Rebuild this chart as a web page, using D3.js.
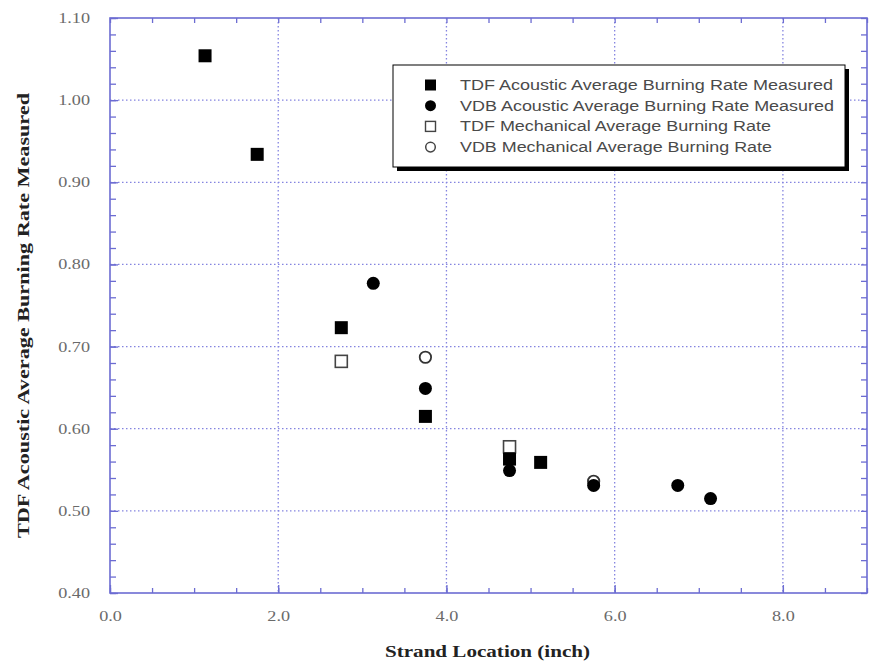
<!DOCTYPE html>
<html>
<head>
<meta charset="utf-8">
<script src="https://cdn.jsdelivr.net/npm/d3@7"></script>
<style>
  body { margin: 0; background: #fff; }
  svg { display: block; }
</style>
</head>
<body>
<svg id="chart" width="875" height="666"></svg>
<script>
// data
var legendLabels = ["TDF Acoustic Average Burning Rate Measured",
                    "VDB Acoustic Average Burning Rate Measured",
                    "TDF Mechanical Average Burning Rate",
                    "VDB Mechanical Average Burning Rate"];
var tdfAcX = [1.13, 1.75, 2.75, 3.75, 4.75, 5.12];
var tdfAcY = [1.054, 0.934, 0.723, 0.615, 0.563, 0.559];
var vdbAcX = [3.13, 3.75, 4.75, 5.75, 6.75, 7.14];
var vdbAcY = [0.777, 0.649, 0.549, 0.531, 0.531, 0.515];
var tdfMeX = [2.75, 4.75];
var tdfMeY = [0.682, 0.578];
var vdbMeX = [3.75, 5.75];
var vdbMeY = [0.687, 0.536];
var xTicks = [0, 2, 4, 6, 8];
var yTicks = [0.4, 0.5, 0.6, 0.7, 0.8, 0.9, 1.0, 1.1];

var margin = {left: 110, top: 18, right: 8, bottom: 73};
var W = 875 - margin.left - margin.right, H = 666 - margin.top - margin.bottom;
var frameCol = "#6c6cd2", gridCol = "#8484e0";

var svg = d3.select("#chart");
var g = svg.append("g").attr("transform", "translate(" + margin.left + "," + margin.top + ")");

var x = d3.scaleLinear().domain([0, 9]).range([0, W]);
var y = d3.scaleLinear().domain([0.4, 1.1]).range([H, 0]);

function pts(xs, ys) { return xs.map(function(v, i){ return {x: v, y: ys[i]}; }); }

// grid
g.append("g").selectAll("line").data(xTicks.filter(function(d){ return d > 0; }))
  .enter().append("line")
  .attr("x1", function(d){ return x(d); }).attr("x2", function(d){ return x(d); })
  .attr("y1", 0).attr("y2", H)
  .attr("stroke", gridCol).attr("stroke-width", 1.3).attr("stroke-dasharray", "1.5,2.5");
g.append("g").selectAll("line").data(yTicks.filter(function(d){ return d > 0.45 && d < 1.05; }))
  .enter().append("line")
  .attr("y1", function(d){ return y(d); }).attr("y2", function(d){ return y(d); })
  .attr("x1", 0).attr("x2", W)
  .attr("stroke", gridCol).attr("stroke-width", 1.3).attr("stroke-dasharray", "1.5,2.5");

// axes, ticks inward on all four sides
var xMinor = d3.range(0, 9.01, 0.5), yMinor = d3.range(0.4, 1.101, 0.02);
function styleAxis(a) {
  a.select(".domain").remove();
  a.selectAll("line").attr("stroke", frameCol).attr("stroke-width", 1.3);
}
styleAxis(g.append("g").attr("transform", "translate(0," + H + ")")
  .call(d3.axisBottom(x).tickValues(xMinor).tickSize(-5).tickFormat("")));
styleAxis(g.append("g").call(d3.axisTop(x).tickValues(xMinor).tickSize(-5).tickFormat("")));
styleAxis(g.append("g").call(d3.axisLeft(y).tickValues(yMinor).tickSize(-6).tickFormat("")));
styleAxis(g.append("g").attr("transform", "translate(" + W + ",0)")
  .call(d3.axisRight(y).tickValues(yMinor).tickSize(-6).tickFormat("")));

var xLab = g.append("g").attr("transform", "translate(0," + H + ")")
  .call(d3.axisBottom(x).tickValues(xTicks).tickSize(-8).tickPadding(18).tickFormat(d3.format(".1f")));
styleAxis(xLab);
var yLab = g.append("g")
  .call(d3.axisLeft(y).tickValues(yTicks).tickSize(-8).tickPadding(20).tickFormat(d3.format(".2f")));
styleAxis(yLab);
svg.selectAll(".tick text")
  .attr("font-family", "Liberation Serif, Times New Roman, serif")
  .attr("font-size", 14).attr("fill", "#6a6a6a");
xLab.selectAll(".tick text").attr("transform", "scale(1.3,1)")
  .attr("x", 0);
yLab.selectAll(".tick text").each(function(){
  var t = d3.select(this);
  t.attr("transform", "translate(" + t.attr("x") + ",0) scale(1.3,1)").attr("x", 0);
});

// frame
g.append("rect").attr("width", W).attr("height", H)
  .attr("fill", "none").attr("stroke", frameCol).attr("stroke-width", 1.6);

// markers: open first, filled drawn over them
var sq = 13, rad = 6.5;
g.append("g").selectAll("rect").data(pts(tdfMeX, tdfMeY)).enter().append("rect")
  .attr("x", function(d){ return x(d.x) - sq/2 + 0.5; }).attr("y", function(d){ return y(d.y) - sq/2 + 0.5; })
  .attr("width", sq - 1).attr("height", sq - 1)
  .attr("fill", "#fff").attr("stroke", "#444").attr("stroke-width", 1.6);
g.append("g").selectAll("circle").data(pts(vdbMeX, vdbMeY)).enter().append("circle")
  .attr("cx", function(d){ return x(d.x); }).attr("cy", function(d){ return y(d.y); })
  .attr("r", rad - 0.8).attr("fill", "#fff").attr("stroke", "#333").attr("stroke-width", 1.8);
g.append("g").selectAll("rect").data(pts(tdfAcX, tdfAcY)).enter().append("rect")
  .attr("x", function(d){ return x(d.x) - sq/2; }).attr("y", function(d){ return y(d.y) - sq/2; })
  .attr("width", sq).attr("height", sq).attr("fill", "#000");
g.append("g").selectAll("circle").data(pts(vdbAcX, vdbAcY)).enter().append("circle")
  .attr("cx", function(d){ return x(d.x); }).attr("cy", function(d){ return y(d.y); })
  .attr("r", rad).attr("fill", "#000");

// legend
var lg = svg.append("g").attr("transform", "translate(393,65)");
lg.append("rect").attr("x", 4).attr("y", 4).attr("width", 452).attr("height", 102).attr("fill", "#000");
lg.append("rect").attr("width", 452).attr("height", 102).attr("fill", "#fff").attr("stroke", "#000");
var widths = [373, 374, 311, 312];
var row = lg.selectAll(".row").data(legendLabels).enter().append("g")
  .attr("transform", function(d, i){ return "translate(0," + (20 + i * 20.7) + ")"; });
row.each(function(d, i){
  var r = d3.select(this);
  if (i == 0) r.append("rect").attr("x", 32).attr("y", -5.5).attr("width", 11).attr("height", 11).attr("fill", "#000");
  if (i == 1) r.append("circle").attr("cx", 37.5).attr("r", 5.5).attr("fill", "#000");
  if (i == 2) r.append("rect").attr("x", 32.5).attr("y", -5).attr("width", 10).attr("height", 10)
    .attr("fill", "#fff").attr("stroke", "#444").attr("stroke-width", 1.4);
  if (i == 3) r.append("circle").attr("cx", 37.5).attr("r", 4.8).attr("fill", "#fff")
    .attr("stroke", "#444").attr("stroke-width", 1.5);
  r.append("text").attr("x", 67).attr("dy", "0.35em")
    .attr("font-family", "Liberation Sans, Arial, sans-serif").attr("font-size", 14)
    .attr("fill", "#4a4a4a")
    .attr("textLength", widths[i]).attr("lengthAdjust", "spacingAndGlyphs")
    .text(d);
});

// axis titles
svg.append("text").attr("x", 385).attr("y", 657)
  .attr("font-family", "Liberation Serif, Times New Roman, serif").attr("font-weight", "bold")
  .attr("font-size", 16).attr("fill", "#222")
  .attr("textLength", 205).attr("lengthAdjust", "spacingAndGlyphs")
  .text("Strand Location (inch)");
svg.append("text").attr("transform", "translate(29,538) rotate(-90)")
  .attr("font-family", "Liberation Serif, Times New Roman, serif").attr("font-weight", "bold")
  .attr("font-size", 16).attr("fill", "#222")
  .attr("textLength", 445).attr("lengthAdjust", "spacingAndGlyphs")
  .text("TDF Acoustic Average Burning Rate Measured");
</script>
</body>
</html>
